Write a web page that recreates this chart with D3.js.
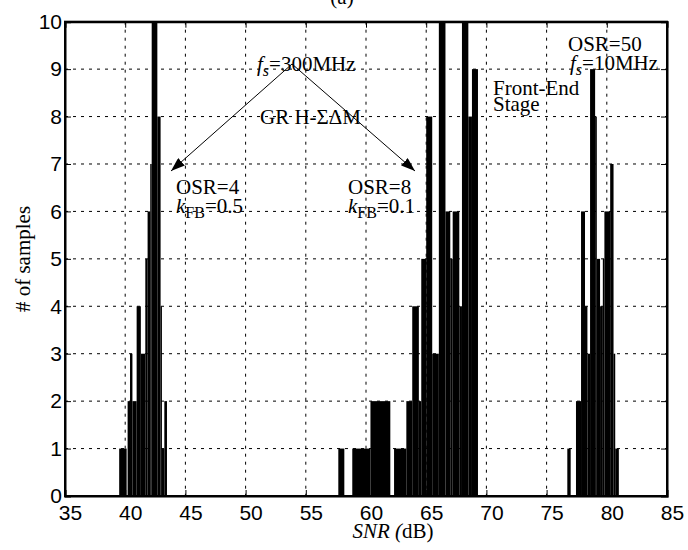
<!DOCTYPE html>
<html>
<head>
<meta charset="utf-8">
<script src="https://cdn.jsdelivr.net/npm/d3@7"></script>
<style>
  body { margin: 0; background: #fff; }
  svg { display: block; background: #fff; }
  .tick text { font-family: "Liberation Sans", Arial, sans-serif; font-size: 21px; fill: #000; }
  .note { font-family: "Liberation Serif", "Times New Roman", serif; font-size: 21px; fill: #000; }
</style>
</head>
<body>
<div id="container"></div>
<script>
// SNR histograms: bin edges (dB) and number of samples per bin
// GR H-SDM, OSR=4, kFB=0.5
var edgesA  = [39.5, 40.12, 40.2, 40.4, 40.6, 40.95, 41.3, 41.67, 41.86, 42.08, 42.2, 42.67, 42.94, 43.05, 43.25, 43.47];
var countsA = [1, 0, 2, 3, 2, 4, 3, 5, 6, 7, 12, 8, 4, 1, 2];
// GR H-SDM, OSR=8, kFB=0.1
var edgesB  = [57.7, 58.2, 58.86, 60.37, 62.02, 62.33, 63.35, 63.84, 64.39, 64.59, 65.0, 65.5, 66.05, 66.6, 67.0, 67.2, 67.75, 67.97, 68.5, 68.8, 69.3];
var countsB = [1, 0, 1, 2, 0, 1, 2, 4, 2, 5, 8, 3, 12, 6, 5, 6, 4, 12, 8, 9];
// front-end stage, OSR=50, fs=10MHz
var edgesC  = [76.72, 77.0, 77.44, 77.86, 78.19, 78.39, 78.61, 79.03, 79.17, 79.44, 79.67, 79.8, 80.28, 80.56, 80.7, 81.0];
var countsC = [1, 0, 2, 6, 4, 3, 9, 8, 5, 4, 5, 6, 7, 3, 1];

var xTicks = [35, 40, 45, 50, 55, 60, 65, 70, 75, 80, 85];
var yTicks = [0, 1, 2, 3, 4, 5, 6, 7, 8, 9, 10];

var width = 688, height = 550;
var plot = {left: 65, right: 667, top: 21.7, bottom: 496};

var x = d3.scaleLinear().domain([35, 85]).range([plot.left, plot.right]);
var y = d3.scaleLinear().domain([0, 10]).range([plot.bottom, plot.top]);

var svg = d3.select("#container").append("svg")
    .attr("width", width)
    .attr("height", height);

var defs = svg.append("defs");
defs.append("clipPath").attr("id", "plot-clip")
  .append("rect")
    .attr("x", plot.left).attr("y", plot.top)
    .attr("width", plot.right - plot.left).attr("height", plot.bottom - plot.top);
defs.append("marker")
    .attr("id", "arrow")
    .attr("markerUnits", "userSpaceOnUse")
    .attr("viewBox", "0 0 14 10")
    .attr("refX", 14).attr("refY", 5)
    .attr("markerWidth", 14).attr("markerHeight", 10)
    .attr("orient", "auto")
  .append("path")
    .attr("d", "M0,0L14,5L0,10Z")
    .attr("fill", "#000");

// grid
svg.append("g").selectAll("line")
    .data(xTicks.slice(1, -1))
    .enter().append("line")
    .attr("x1", d => x(d)).attr("x2", d => x(d))
    .attr("y1", plot.top).attr("y2", plot.bottom)
    .attr("stroke", "#000").attr("stroke-width", 1)
    .attr("stroke-dasharray", "3,5");
svg.append("g").selectAll("line")
    .data(yTicks.slice(1, -1))
    .enter().append("line")
    .attr("x1", plot.left).attr("x2", plot.right)
    .attr("y1", d => y(d)).attr("y2", d => y(d))
    .attr("stroke", "#000").attr("stroke-width", 1)
    .attr("stroke-dasharray", "3,5");

// bars
function toBins(edges, counts) {
  return d3.pairs(edges).map((p, i) => ({x0: p[0], x1: p[1], n: counts[i]}))
    .filter(b => b.n > 0);
}
var bins = toBins(edgesA, countsA).concat(toBins(edgesB, countsB), toBins(edgesC, countsC));

svg.append("g").attr("clip-path", "url(#plot-clip)")
  .selectAll("rect")
  .data(bins)
  .enter().append("rect")
    .attr("x", d => x(d.x0))
    .attr("width", d => x(d.x1) - x(d.x0))
    .attr("y", d => y(d.n))
    .attr("height", d => y(0) - y(d.n))
    .attr("fill", "#000");

// axes
var xAxis = svg.append("g")
    .attr("transform", "translate(0," + plot.bottom + ")")
    .call(d3.axisBottom(x).tickValues(xTicks).tickSize(-6).tickPadding(9));
xAxis.selectAll(".tick text").attr("dx", 5);
var yAxis = svg.append("g")
    .attr("transform", "translate(" + plot.left + ",0)")
    .call(d3.axisLeft(y).tickValues(yTicks).tickSize(-6).tickPadding(3));
svg.append("g")
    .attr("transform", "translate(0," + plot.top + ")")
    .call(d3.axisTop(x).tickValues(xTicks).tickSize(-6).tickFormat(""));
svg.append("g")
    .attr("transform", "translate(" + plot.right + ",0)")
    .call(d3.axisRight(y).tickValues(yTicks).tickSize(-6).tickFormat(""));
svg.selectAll(".domain").attr("stroke", "#000").attr("stroke-width", 2);
svg.selectAll(".tick line").attr("stroke", "#000");

svg.append("rect")
    .attr("x", plot.left).attr("y", plot.top)
    .attr("width", plot.right - plot.left).attr("height", plot.bottom - plot.top)
    .attr("fill", "none").attr("stroke", "#000").attr("stroke-width", 2);

// labels
svg.append("text").attr("class", "note")
    .attr("x", 342).attr("y", 4).attr("text-anchor", "middle")
    .text("(a)");

var xl = svg.append("text").attr("class", "note")
    .attr("x", 393).attr("y", 538).attr("text-anchor", "middle");
xl.append("tspan").attr("font-style", "italic").text("SNR (");
xl.append("tspan").text("dB)");

svg.append("text").attr("class", "note")
    .attr("transform", "translate(30,259) rotate(-90)")
    .attr("text-anchor", "middle")
    .text("# of samples");

// annotations
function subText(xp, yp, main, sub, rest, italicSub) {
  var t = svg.append("text").attr("class", "note").attr("x", xp).attr("y", yp);
  t.append("tspan").attr("font-style", "italic").text(main);
  t.append("tspan").attr("dy", 5).attr("font-size", 16)
    .attr("font-style", italicSub ? "italic" : "normal").text(sub);
  t.append("tspan").attr("dy", -5).text(rest);
  return t;
}

subText(257, 71, "f", "s", "=300MHz", true);
svg.append("text").attr("class", "note").attr("x", 260).attr("y", 124).text("GR H-\u03A3\u0394M");

svg.append("line")
    .attr("x1", 292).attr("y1", 64).attr("x2", 171).attr("y2", 171)
    .attr("stroke", "#000").attr("stroke-width", 1).attr("marker-end", "url(#arrow)");
svg.append("line")
    .attr("x1", 292).attr("y1", 64).attr("x2", 415).attr("y2", 171)
    .attr("stroke", "#000").attr("stroke-width", 1).attr("marker-end", "url(#arrow)");

svg.append("text").attr("class", "note").attr("x", 176).attr("y", 194).text("OSR=4");
subText(176, 213, "k", "FB", "=0.5", false);
svg.append("text").attr("class", "note").attr("x", 348).attr("y", 194).text("OSR=8");
subText(348, 213, "k", "FB", "=0.1", false);

svg.append("text").attr("class", "note").attr("x", 568).attr("y", 51).text("OSR=50");
subText(570, 70, "f", "s", "=10MHz", true);
svg.append("text").attr("class", "note").attr("x", 493).attr("y", 95).text("Front-End");
svg.append("text").attr("class", "note").attr("x", 493).attr("y", 111).text("Stage");
</script>
</body>
</html>
